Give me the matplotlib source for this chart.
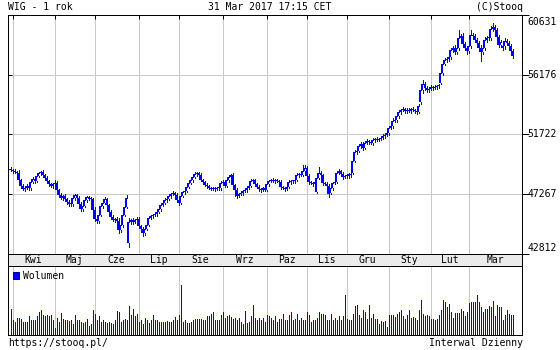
import matplotlib
matplotlib.use("Agg")
import matplotlib.pyplot as plt
from matplotlib.patches import Rectangle, Patch

# ---------------- data ----------------
closes = [
    49074, 49000, 48925, 48851, 48329, 47881, 47657, 47732, 47881, 47732,
    48179, 48403, 48254, 48627, 48851, 48925, 48701, 48478, 48254, 48030,
    47881, 48030, 48105, 47583, 47210, 46986, 47135, 46911, 46688, 46539,
    46510, 46986, 47210, 46986, 46539, 46166, 46390, 46837, 47060, 46911,
    46880, 46092, 45420, 45271, 45719, 46390, 46614, 46911, 46465, 45943,
    45570, 45346, 45420, 45271, 44601, 44973, 45719, 46315, 46986, 45197,
    45346, 45197, 45346, 45420, 44899, 44675, 44377, 44675, 44973, 45495,
    45644, 45719, 45793, 45943, 46166, 46465, 46614, 46837, 46911, 47135,
    47284, 47359, 47210, 46837, 46614, 47135, 47433, 47508, 47806, 48105,
    48329, 48552, 48776, 48851, 48701, 48329, 48179, 47956, 47881, 47732,
    47657, 47732, 47657, 47732, 47700, 48105, 48179, 47881, 48329, 48552,
    48701, 47956, 47583, 47135, 47284, 47359, 47508, 47583, 47732, 47881,
    48254, 48329, 48030, 47806, 47657, 47583, 47732, 47583, 48030, 48254,
    48329, 48254, 48329, 48254, 48179, 47806, 47732, 47657, 47806, 48179,
    48254, 48230, 48329, 48701, 48776, 48701, 49000, 49223, 48627, 48179,
    48105, 48030, 48179, 48478, 48851, 48701, 48105, 48030, 47881, 47284,
    47732, 48105, 48179, 48851, 49000, 48776, 48552, 48627, 48600, 48776,
    48701, 49745, 50416, 50491, 50864, 51013, 50714, 51087, 51236, 51162,
    51087, 51311, 51385, 51311, 51385, 51460, 51609, 51684, 51833, 52206,
    52355, 52727, 52802, 53100, 53399, 53548, 53622, 53473, 53548, 53473,
    53622, 53548, 53473, 53399, 53846, 55039, 55486, 55188, 55039, 55113,
    55263, 55188, 55263, 55337, 55412, 56307, 56977, 57276, 57350, 57499,
    58021, 58170, 57872, 58170, 58916, 59065, 58469, 58170, 57947, 58320,
    59140, 59065, 58767, 58543, 58170, 57872, 58170, 58767, 58916, 58900,
    59587, 59736, 59513, 58991, 58394, 58618, 58300, 58692, 58543, 58320,
    57947, 57574,
]

opens = [
    49150, 49074, 49000, 48925, 48851, 48329, 47881, 47657, 47732, 47881,
    47732, 48179, 48403, 48254, 48627, 48851, 48925, 48701, 48478, 48254,
    48030, 47881, 48030, 48105, 47583, 47210, 46986, 47135, 46911, 46688,
    46539, 46510, 46986, 47210, 46986, 46539, 46166, 46390, 46837, 47060,
    46911, 46880, 46092, 45420, 45271, 45719, 46390, 46614, 46911, 46465,
    45943, 45570, 45346, 45420, 45271, 44601, 44973, 45719, 46315, 43631,
    45197, 45346, 45197, 45346, 45420, 44899, 44675, 44377, 44675, 44973,
    45495, 45644, 45719, 45793, 45943, 46166, 46465, 46614, 46837, 46911,
    47135, 47284, 47359, 47210, 46837, 46614, 47135, 47433, 47508, 47806,
    48105, 48329, 48552, 48776, 48851, 48701, 48329, 48179, 47956, 47881,
    47732, 47657, 47732, 47657, 47732, 47700, 48105, 48179, 47881, 48329,
    48552, 48701, 47956, 47583, 47135, 47284, 47359, 47508, 47583, 47732,
    47881, 48254, 48329, 48030, 47806, 47657, 47583, 47732, 47583, 48030,
    48254, 48329, 48254, 48329, 48254, 48179, 47806, 47732, 47657, 47806,
    48179, 48254, 48230, 48329, 48701, 48776, 48701, 49000, 49223, 48627,
    48179, 48105, 48030, 47450, 48478, 48851, 48701, 48105, 48030, 47881,
    47350, 47732, 48105, 48179, 48851, 49000, 48776, 48552, 48627, 48600,
    48776, 48851, 49745, 50416, 50491, 50864, 51013, 50714, 51087, 51236,
    51162, 51087, 51311, 51385, 51311, 51385, 51460, 51609, 51684, 51833,
    52206, 52355, 52727, 52802, 53100, 53399, 53548, 53622, 53473, 53548,
    53473, 53622, 53548, 53473, 53399, 54144, 55039, 55486, 55188, 55039,
    55113, 55263, 55188, 55263, 55337, 55561, 56307, 56977, 57276, 57350,
    57499, 58021, 58170, 57872, 58170, 58916, 59065, 58469, 58170, 57947,
    58320, 59140, 59065, 58767, 58543, 58170, 57872, 58170, 58767, 58916,
    58900, 59587, 59736, 59513, 58991, 58394, 58150, 58300, 58692, 58543,
    58320, 57947,
]

# upper / lower shadow lengths (index points above the body / below it)
hi_ext = [
    120, 80, 150, 60, 200, 90, 130, 70, 160, 110,
    90, 180, 70, 140, 100, 60, 120, 90, 150, 80,
    110, 70, 200, 130, 90, 160, 80, 120, 100, 140,
    70, 190, 110, 80, 150, 120, 90, 170, 100, 60,
    130, 80, 210, 150, 100, 170, 90, 140, 110, 80,
    120, 160, 90, 130, 200, 250, 140, 180, 220, 300,
    110, 150, 90, 130, 170, 100, 140, 120, 160, 90,
    110, 80, 130, 100, 150, 90, 120, 140, 70, 110,
    100, 130, 90, 160, 120, 200, 110, 80, 140, 100,
    120, 90, 150, 110, 70, 130, 100, 80, 120, 90,
    60, 110, 80, 100, 70, 150, 120, 90, 130, 160,
    110, 140, 100, 180, 90, 120, 80, 110, 70, 130,
    150, 90, 110, 80, 120, 70, 100, 90, 160, 110,
    80, 120, 90, 70, 100, 130, 90, 110, 80, 140,
    100, 70, 120, 160, 110, 90, 180, 200, 150, 120,
    90, 110, 130, 200, 250, 140, 110, 90, 120, 160,
    180, 110, 90, 150, 120, 100, 130, 90, 110, 80,
    120, 260, 150, 110, 180, 140, 120, 100, 130, 90,
    110, 120, 90, 140, 100, 110, 130, 90, 150, 170,
    120, 190, 140, 160, 130, 110, 150, 100, 120, 140,
    90, 120, 110, 100, 180, 300, 200, 150, 130, 110,
    120, 100, 140, 110, 90, 280, 200, 160, 140, 120,
    180, 150, 200, 130, 220, 160, 190, 140, 120, 170,
    210, 150, 180, 140, 130, 190, 150, 200, 170, 140,
    220, 240, 160, 130, 170, 150, 190, 120, 140, 160,
    130, 150,
]
lo_ext = [
    100, 140, 70, 120, 90, 180, 110, 150, 80, 130,
    160, 90, 140, 70, 110, 130, 80, 150, 100, 120,
    90, 140, 110, 170, 130, 80, 150, 100, 160, 120,
    140, 90, 130, 110, 170, 150, 120, 80, 140, 110,
    90, 160, 130, 180, 120, 100, 140, 80, 150, 170,
    130, 110, 160, 140, 220, 150, 120, 90, 110, 300,
    130, 160, 100, 140, 180, 150, 230, 130, 110, 90,
    100, 130, 80, 120, 90, 140, 110, 70, 130, 100,
    120, 90, 150, 130, 170, 100, 80, 120, 90, 110,
    100, 120, 90, 130, 150, 110, 130, 90, 120, 100,
    110, 80, 120, 90, 130, 100, 140, 110, 80, 120,
    130, 160, 430, 150, 110, 90, 120, 80, 130, 100,
    90, 110, 140, 100, 120, 130, 90, 110, 80, 120,
    100, 90, 120, 80, 110, 140, 100, 130, 90, 110,
    120, 90, 100, 80, 130, 110, 90, 120, 150, 140,
    110, 130, 100, 90, 80, 120, 140, 100, 130, 220,
    90, 120, 110, 80, 100, 130, 140, 90, 110, 100,
    120, 90, 100, 130, 110, 150, 120, 90, 110, 130,
    100, 120, 140, 110, 100, 90, 110, 130, 100, 120,
    110, 140, 100, 120, 150, 130, 110, 140, 120, 100,
    130, 110, 120, 150, 100, 160, 220, 140, 180, 120,
    110, 130, 100, 120, 140, 90, 130, 110, 150, 120,
    140, 180, 160, 130, 120, 170, 190, 150, 200, 140,
    160, 170, 150, 180, 200, 670, 150, 130, 140, 170,
    120, 160, 190, 220, 150, 170, 130, 180, 140, 160,
    150, 180,
]

# notable long shadows (day index -> extreme)
low_idx = [59, 54, 66, 206]
low_val = [43333, 44377, 44150, 54815]
high_idx = [146, 154, 206, 224, 230, 241, 247]
high_val = [49450, 49298, 55785, 59513, 59513, 60034, 58900]

volumes = [
    25, 14, 12, 16, 16, 15, 12, 12, 12, 18,
    14, 14, 14, 18, 22, 24, 19, 18, 19, 18,
    19, 14, 6, 16, 12, 21, 15, 14, 14, 13,
    14, 10, 19, 14, 14, 12, 11, 12, 15, 8,
    10, 24, 20, 14, 18, 12, 14, 12, 11, 12, 11,
    10, 14, 23, 22, 12, 14, 15, 14, 28, 19,
    25, 18, 20, 12, 14, 10, 16, 14, 11, 14,
    19, 14, 14, 12, 12, 12, 12, 13, 12, 12,
    14, 17, 14, 19, 49, 12, 14, 11, 11, 12,
    14, 15, 15, 15, 15, 14, 14, 18, 18, 20,
    22, 14, 14, 14, 19, 22, 16, 18, 19, 17,
    15, 16, 14, 16, 12, 10, 23, 11, 12, 18,
    29, 16, 14, 16, 14, 16, 12, 19, 18, 16,
    14, 18, 12, 15, 15,
    20, 14, 14, 19, 22, 14, 15, 20, 14, 16,
    14, 14, 22, 19, 12, 14, 14, 16, 22, 20,
    20, 19, 14, 14, 20, 14, 16, 14, 18, 14,
    18, 39, 15, 14, 14, 20, 28, 29, 19,
    16, 24, 22, 15, 29, 16, 20, 15, 15, 10,
    13, 12, 13, 7, 19, 19, 19, 17, 20, 22,
    24, 18, 15, 19, 24, 16, 17, 16, 14, 24,
    34, 20, 18, 19, 18, 15, 15, 14, 15, 19,
    24, 34, 32, 27, 30, 22, 16, 21, 21, 21,
    25, 23, 18, 22, 31, 32, 32, 32, 39, 32,
    27, 22, 25, 25, 28, 27, 33, 18, 29, 27,
    27, 14, 19, 24, 20, 19, 19,
]

month_starts = [1, 22, 42, 64, 84, 106, 128, 148, 168, 189, 210, 229]
month_labels = ["Kwi", "Maj", "Cze", "Lip", "Sie", "Wrz",
                "Paz", "Lis", "Gru", "Sty", "Lut", "Mar"]
y_ticks = [42812, 47267, 51722, 56176, 60631]

title_left = "WIG - 1 rok"
title_mid = "31 Mar 2017 17:15 CET"
title_right = "(C)Stooq"
foot_left = "https://stooq.pl/"
foot_right = "Interwal Dzienny"

# ---------------- style ----------------
BLUE = "#0000ff"
GRID = "#c8c8c8"
BAND = "#ebebeb"
FS = 7
LW = 0.72  # 1 px at 100 dpi
plt.rcParams["font.family"] = ["DejaVu Sans Mono", "DejaVu Sans"]

W, H = 560, 350
fig = plt.figure(figsize=(W / 100, H / 100), dpi=100)
fig.patch.set_facecolor("white")


def px_axes(l, t, r, b):
    return fig.add_axes([l / W, 1 - b / H, (r - l) / W, (b - t) / H])


# x limits chosen so that each day sits on a pixel centre (2 px per day)
XMIN, XMAX = -1.25, 255.75
ax = px_axes(8, 15, 522, 254)
band = px_axes(8, 254, 522, 266)
vax = px_axes(8, 266, 522, 335)

# ---------------- price panel ----------------
ax.set_xlim(XMIN, XMAX)
ax.set_ylim(y_ticks[0], y_ticks[-1])
PX_Y = (y_ticks[-1] - y_ticks[0]) / 239.0   # data units per pixel
for m in month_starts:
    ax.axvline(m, color=GRID, lw=LW, zorder=0, antialiased=False)
for t in y_ticks[1:-1]:
    ax.axhline(t, color=GRID, lw=LW, zorder=0, antialiased=False)

lows_o = dict(zip(low_idx, low_val))
highs_o = dict(zip(high_idx, high_val))
for i, (o, c) in enumerate(zip(opens, closes)):
    b0, b1 = min(o, c), max(o, c)
    lo = min(b0 - lo_ext[i], lows_o.get(i, b0))
    hi = max(b1 + hi_ext[i], highs_o.get(i, b1))
    ax.vlines(i, lo, hi, color=BLUE, lw=LW, zorder=2, antialiased=False)
    h = max(b1 - b0, PX_Y)
    ax.add_patch(Rectangle((i - 0.75, b0), 1.5, h, facecolor=BLUE,
                           edgecolor="none", lw=0, zorder=3,
                           antialiased=False))
    if c > o and (b1 - b0) > 2.5 * PX_Y:
        ax.vlines(i, b0 + PX_Y, b1 - PX_Y, color="white", lw=LW, zorder=4,
                  antialiased=False)

ax.set_xticks(month_starts)
ax.tick_params(axis="x", which="both", direction="in", top=True, bottom=False,
               length=3, width=LW, labelbottom=False, labeltop=False)
ax.set_yticks(y_ticks)
ax.tick_params(axis="y", direction="in", left=True, right=False, length=3,
               width=LW, labelleft=False)
for s in ax.spines.values():
    s.set_linewidth(LW)

ax2 = ax.twinx()
ax2.set_ylim(ax.get_ylim())
ax2.set_yticks(y_ticks)
ax2.tick_params(axis="y", direction="out", length=5, width=LW,
                labelright=False)
for s in ax2.spines.values():
    s.set_visible(False)

for k, t in enumerate(y_ticks):
    dy = 0
    if k == 0:
        dy = 6
    elif k == len(y_ticks) - 1:
        dy = -7
    ax.annotate(str(t), xy=(1, t), xycoords=("axes fraction", "data"),
                xytext=(5, dy), textcoords="offset pixels",
                ha="left", va="center", fontsize=FS, annotation_clip=False)

# ---------------- month band ----------------
band.set_facecolor(BAND)
band.set_xlim(XMIN, XMAX)
band.set_ylim(0, 1)
band.set_yticks([])
band.set_xticks(month_starts)
band.tick_params(axis="x", direction="out", length=4, width=LW,
                 labelbottom=False)
for s in band.spines.values():
    s.set_linewidth(LW)
edges = month_starts + [XMAX]
for k, lab in enumerate(month_labels):
    band.text((edges[k] + edges[k + 1]) / 2, 0.5, lab, ha="center",
              va="center", fontsize=FS)

# ---------------- volume panel ----------------
vax.set_xlim(XMIN, XMAX)
vax.set_ylim(-1, 68)
for m in month_starts:
    vax.axvline(m, color=GRID, lw=LW, zorder=0, antialiased=False)
vax.vlines(range(len(volumes)), 0, volumes, color=BLUE, lw=LW,
           antialiased=False, zorder=2)
vax.set_xticks([])
vax.set_yticks([])
for s in vax.spines.values():
    s.set_linewidth(LW)
vax.legend(handles=[Patch(facecolor=BLUE, edgecolor="#000080", lw=LW,
                          label="Wolumen")],
           loc="upper left", bbox_to_anchor=(0, 1), frameon=False,
           fontsize=FS, handlelength=0.65, handleheight=0.65,
           handletextpad=0.35, borderaxespad=0.2, borderpad=0.3)

# ---------------- texts ----------------
fig.text(8 / W, 1 - 7 / H, title_left, ha="left", va="center", fontsize=FS)
fig.text(269.5 / W, 1 - 7 / H, title_mid, ha="center", va="center", fontsize=FS)
fig.text(523 / W, 1 - 7 / H, title_right, ha="right", va="center", fontsize=FS)
fig.text(8 / W, 1 - 343 / H, foot_left, ha="left", va="center", fontsize=FS)
fig.text(523 / W, 1 - 343 / H, foot_right, ha="right", va="center", fontsize=FS)

fig.savefig("out.png", dpi=100)
